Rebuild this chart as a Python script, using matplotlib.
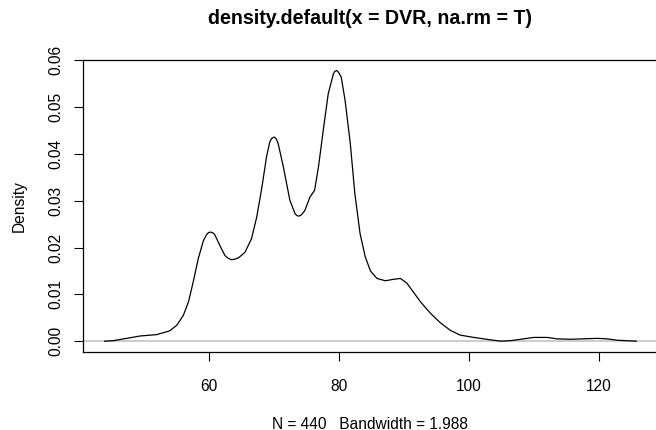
#density plot of DVR, redrawn from values
import matplotlib
matplotlib.use('Agg')
import matplotlib.pyplot as plt
import numpy as np

# curve points (x = DVR, y = density)
dvr = [44.0, 45.3, 47.4, 49.4, 52.0, 54.0, 55.1, 56.1, 56.9, 57.6, 58.4,
       59.2, 59.7, 60.0, 60.3, 60.7, 61.0, 61.7, 62.5, 63.0, 63.5, 64.0,
       64.6, 65.6, 66.6, 67.4, 68.2, 68.9, 69.4, 69.7, 70.1, 70.4, 70.7,
       71.5, 72.5, 73.3, 73.6, 73.9, 74.3, 74.8, 75.6, 76.3, 76.9, 77.7,
       78.4, 79.2, 79.4, 79.7, 80.0, 80.4, 81.0, 81.8, 82.5, 83.3, 84.1,
       84.9, 85.9, 87.2, 88.4, 89.5, 90.5, 91.5, 92.6, 94.1, 95.6, 97.2,
       98.7, 100.8, 102.8, 104.9, 106.4, 108.0, 110.0, 112.1, 113.6, 115.7,
       117.7, 119.8, 121.3, 122.9, 125.8]
density = [0.0000, 0.0001, 0.0006, 0.0011, 0.0014, 0.0022, 0.0034, 0.0055,
           0.0084, 0.0125, 0.0176, 0.0215, 0.0228, 0.0232, 0.0233, 0.0231,
           0.0226, 0.0205, 0.0183, 0.0177, 0.0174, 0.0175, 0.0178, 0.0190,
           0.0219, 0.0265, 0.0329, 0.0393, 0.0425, 0.0433, 0.0436, 0.0432,
           0.0422, 0.0372, 0.0301, 0.0272, 0.0268, 0.0267, 0.0270, 0.0279,
           0.0308, 0.0322, 0.0372, 0.0457, 0.0528, 0.0571, 0.0576, 0.0578,
           0.0574, 0.0564, 0.0514, 0.0422, 0.0315, 0.0230, 0.0180, 0.0150,
           0.0134, 0.0129, 0.0132, 0.0134, 0.0124, 0.0105, 0.0084, 0.0060,
           0.0040, 0.0023, 0.0013, 0.0008, 0.0004, 0.0000, 0.0001, 0.0004,
           0.0008, 0.0008, 0.0005, 0.0004, 0.0005, 0.0006, 0.0005, 0.0002,
           0.0000]

xticks = [60, 80, 100, 120]
yticks = [0.00, 0.01, 0.02, 0.03, 0.04, 0.05, 0.06]
title = 'density.default(x = DVR, na.rm = T)'
xlab = 'N = 440   Bandwidth = 1.988'

plt.rcParams['font.family'] = ['Liberation Sans', 'DejaVu Sans']

fig = plt.figure(figsize=(6.56, 4.30), dpi=100)
ax = fig.add_axes([83.4/656, 78/430, (657.5-83.4)/656, (352-59.7)/430])

# R style: 4% padding around the data range
xr = max(dvr) - min(dvr)
ax.set_xlim(min(dvr) - 0.04*xr, max(dvr) + 0.04*xr)
yr = max(density)
ax.set_ylim(-0.04*yr, yr*1.04)

ax.axhline(0, color='#c8c8c8', lw=1.3, zorder=1)
ax.plot(dvr, density, color='black', lw=0.9, zorder=2, solid_joinstyle='round')

ax.set_xticks(xticks)
ax.set_xticklabels([str(t) for t in xticks])
ax.set_yticks(yticks)
ax.set_yticklabels(['%.2f' % t for t in yticks], rotation=90, va='center')
ax.tick_params(axis='both', length=6.7, width=0.8, labelsize=11.2, direction='out')
ax.tick_params(axis='x', pad=13)
ax.tick_params(axis='y', pad=7.5)

for sp in ax.spines.values():
    sp.set_linewidth(0.9)

ax.set_title(title, fontsize=14.1, fontweight='bold', pad=26)
ax.set_xlabel(xlab, fontsize=11.2, labelpad=16)
ax.set_ylabel('Density', fontsize=11.2, labelpad=15.5)

fig.savefig('out.png', dpi=100)
